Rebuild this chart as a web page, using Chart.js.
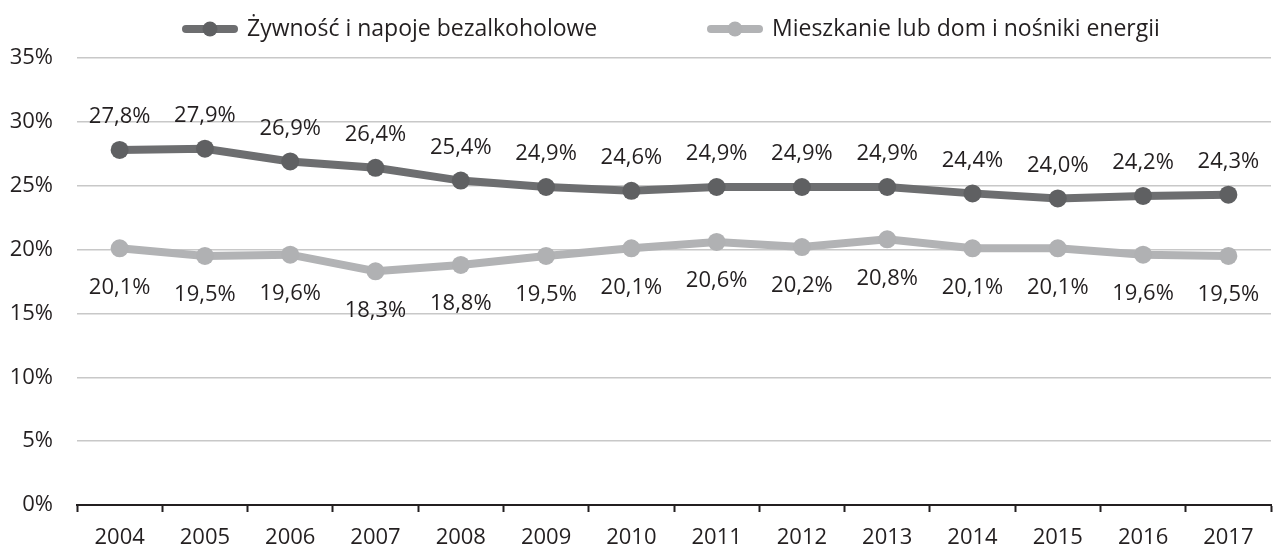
<!DOCTYPE html>
<html>
<head>
<meta charset="utf-8">
<script src="https://cdn.jsdelivr.net/npm/chart.js@4.4.1/dist/chart.umd.min.js"></script>
<style>
  html, body { margin: 0; padding: 0; background: #fff; overflow: hidden; }
  #wrap { width: 1280px; height: 545px; position: relative; }
</style>
</head>
<body>
<div id="wrap"><canvas id="c"></canvas></div>
<script>
const years = ['2004','2005','2006','2007','2008','2009','2010','2011','2012','2013','2014','2015','2016','2017'];
const seriesNames = ['Żywność i napoje bezalkoholowe', 'Mieszkanie lub dom i nośniki energii'];
const food = [27.8, 27.9, 26.9, 26.4, 25.4, 24.9, 24.6, 24.9, 24.9, 24.9, 24.4, 24.0, 24.2, 24.3];
const housing = [20.1, 19.5, 19.6, 18.3, 18.8, 19.5, 20.1, 20.6, 20.2, 20.8, 20.1, 20.1, 19.6, 19.5];
const yTicks = [0, 5, 10, 15, 20, 25, 30, 35];

const FONT = '"Open Sans", "Noto Sans", sans-serif';
const FSIZE = 22;
const LEGEND_FSIZE = 23;
const TEXT = '#231f20';
const DARK_LINE = '#6d6e70';
const DARK_PT = '#5f6062';
const LIGHT_LINE = '#b2b3b5';
const LIGHT_PT = '#b0b1b3';

function fmt(v) { return v.toFixed(1).replace('.', ',') + '%'; }

const labelPlugin = {
  id: 'valueLabels',
  afterDatasetsDraw(chart) {
    const ctx = chart.ctx;
    ctx.save();
    ctx.font = FSIZE + 'px ' + FONT;
    ctx.fillStyle = TEXT;
    ctx.textAlign = 'center';
    ctx.textBaseline = 'middle';
    chart.data.datasets.forEach((ds, di) => {
      const meta = chart.getDatasetMeta(di);
      meta.data.forEach((pt, i) => {
        const off = di === 0 ? -33 : 39;
        ctx.fillText(fmt(ds.data[i]), pt.x, pt.y + off);
      });
    });
    ctx.restore();
  }
};

const legendPlugin = {
  id: 'customLegend',
  afterDraw(chart) {
    const ctx = chart.ctx;
    const starts = [182, 707];
    const cols = [[DARK_LINE, DARK_PT], [LIGHT_LINE, LIGHT_PT]];
    const y = 29;
    ctx.save();
    chart.data.datasets.forEach((ds, i) => {
      const x0 = starts[i];
      ctx.strokeStyle = cols[i][0];
      ctx.lineWidth = 8;
      ctx.lineCap = 'round';
      ctx.beginPath();
      ctx.moveTo(x0 + 4, y);
      ctx.lineTo(x0 + 52, y);
      ctx.stroke();
      ctx.fillStyle = cols[i][1];
      ctx.beginPath();
      ctx.arc(x0 + 28, y, 7.5, 0, Math.PI * 2);
      ctx.fill();
      ctx.font = LEGEND_FSIZE + 'px ' + FONT;
      ctx.fillStyle = TEXT;
      ctx.textAlign = 'left';
      ctx.textBaseline = 'middle';
      ctx.fillText(ds.label, x0 + 65, y);
    });
    ctx.restore();
  }
};

new Chart(document.getElementById('c'), {
  type: 'line',
  data: {
    labels: years,
    datasets: [
      {
        label: seriesNames[0],
        data: food,
        borderColor: DARK_LINE,
        backgroundColor: DARK_PT,
        pointBackgroundColor: DARK_PT,
        pointBorderWidth: 0,
        pointRadius: 9,
        borderWidth: 8,
        tension: 0,
        fill: false
      },
      {
        label: seriesNames[1],
        data: housing,
        borderColor: LIGHT_LINE,
        backgroundColor: LIGHT_PT,
        pointBackgroundColor: LIGHT_PT,
        pointBorderWidth: 0,
        pointRadius: 9,
        borderWidth: 8,
        tension: 0,
        fill: false
      }
    ]
  },
  options: {
    responsive: true,
    maintainAspectRatio: false,
    animation: false,
    layout: { padding: { top: 58, right: 0, bottom: 0, left: 0 } },
    plugins: {
      legend: { display: false },
      tooltip: { enabled: false }
    },
    scales: {
      x: {
        type: 'category',
        offset: true,
        grid: {
          display: true,
          offset: true,
          drawOnChartArea: false,
          drawTicks: true,
          tickLength: 7,
          tickWidth: 2,
          tickColor: '#231f20'
        },
        border: { display: true, color: '#231f20', width: 2 },
        ticks: {
          color: TEXT,
          font: { family: FONT, size: FSIZE },
          padding: 13,
          maxRotation: 0,
          autoSkip: false
        },
        afterFit(scale) { scale.height = 40; }
      },
      y: {
        min: 0,
        max: 35,
        afterBuildTicks(scale) { scale.ticks = yTicks.map(v => ({ value: v })); },
        grid: {
          color: '#c8c8c8',
          lineWidth: 1.5,
          drawTicks: false
        },
        border: { display: false },
        ticks: {
          color: TEXT,
          font: { family: FONT, size: FSIZE },
          padding: 24,
          callback: (v) => v + '%'
        },
        afterFit(scale) { scale.width = 77; }
      }
    }
  },
  plugins: [labelPlugin, legendPlugin]
});
</script>
</body>
</html>
